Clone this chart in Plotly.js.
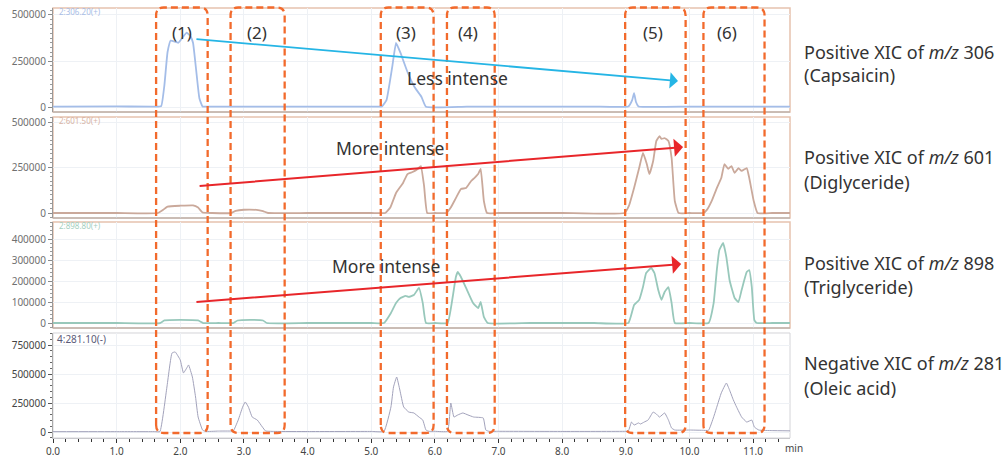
<!DOCTYPE html>
<html>
<head>
<meta charset="utf-8">
<script src="https://cdn.plot.ly/plotly-3.0.1.min.js"></script>
<style>html,body{margin:0;padding:0;background:#fff;}#chart{width:1006px;height:457px;}</style>
</head>
<body>
<div id="chart"></div>
<script>
// ---------- DATA ----------
// Positive XIC m/z 306 (Capsaicin)
const t306 = [0, 1.0, 1.60, 1.70, 1.75, 1.80, 1.85, 1.97, 2.05, 2.10, 2.16, 2.20, 2.25, 2.30, 2.35, 2.5, 3.0, 4.0, 5.10, 5.17, 5.24, 5.33, 5.39, 5.46, 5.57, 5.68, 5.79, 5.86, 6.5, 7.5, 8.5, 9.04, 9.10, 9.13, 9.16, 9.20, 10.0, 11.0, 11.58];
const i306 = [5000, 6000, 5000, 8000, 120000, 300000, 362000, 350000, 385000, 405000, 385000, 350000, 200000, 50000, 6000, 5000, 5000, 5000, 5000, 6000, 40000, 219000, 349000, 295000, 192000, 111000, 57000, 4000, 5000, 5000, 5000, 6000, 40000, 78000, 30000, 6000, 5000, 5000, 5000];

// Positive XIC m/z 601 (Diglyceride)
const t601 = [0, 1.0, 1.65, 1.72, 1.80, 2.00, 2.20, 2.28, 2.35, 2.50, 2.80, 2.87, 3.00, 3.20, 3.30, 3.38, 4.0, 5.0,
  5.22, 5.30, 5.39, 5.50, 5.57, 5.65, 5.73, 5.78, 5.83, 5.88, 6.0,
  6.18, 6.25, 6.33, 6.41, 6.49, 6.57, 6.62, 6.68, 6.72, 6.77, 6.82, 7.0, 8.0,
  8.98, 9.05, 9.13, 9.21, 9.27, 9.33, 9.37, 9.43, 9.48, 9.53, 9.56, 9.61, 9.67, 9.72, 9.77, 9.83, 10.0,
  10.22, 10.28, 10.35, 10.43, 10.50, 10.55, 10.61, 10.66, 10.71, 10.77, 10.82, 10.90, 10.94, 11.01, 11.07, 11.3, 11.58];
const i601 = [0, 0, 0, 15000, 35000, 40000, 42000, 30000, 3000, 0, 0, 12000, 18000, 17000, 10000, 0, 0, 0,
  0, 30000, 110000, 165000, 214000, 225000, 242000, 258000, 150000, 0, 0,
  0, 30000, 82000, 132000, 137000, 176000, 192000, 214000, 242000, 66000, 0, 0, 0,
  0, 40000, 137000, 247000, 330000, 269000, 214000, 286000, 396000, 423000, 407000, 412000, 396000, 302000, 66000, 0, 0,
  0, 20000, 66000, 137000, 192000, 269000, 242000, 258000, 220000, 247000, 231000, 247000, 192000, 66000, 0, 0, 0];

// Positive XIC m/z 898 (Triglyceride)
const t898 = [0, 1.0, 1.68, 1.75, 2.0, 2.28, 2.36, 2.6, 2.83, 2.90, 3.10, 3.30, 3.36, 4.0, 5.0,
  5.20, 5.31, 5.39, 5.46, 5.54, 5.59, 5.67, 5.75, 5.81, 5.86, 6.0,
  6.20, 6.28, 6.33, 6.36, 6.41, 6.49, 6.60, 6.68, 6.72, 6.77, 6.83, 7.5, 8.5,
  9.04, 9.13, 9.21, 9.27, 9.32, 9.40, 9.45, 9.51, 9.56, 9.61, 9.67, 9.72, 9.77, 10.0,
  10.30, 10.38, 10.43, 10.47, 10.53, 10.58, 10.63, 10.71, 10.77, 10.82, 10.90, 10.94, 10.98, 11.02, 11.06, 11.3, 11.58];
const i898 = [0, 0, 0, 12000, 15000, 12000, 0, 0, 0, 12000, 15000, 12000, 0, 0, 0,
  0, 48000, 95000, 119000, 129000, 124000, 133000, 167000, 95000, 0, 0,
  0, 124000, 219000, 243000, 219000, 167000, 95000, 71000, 100000, 29000, 0, 0, 0,
  0, 86000, 110000, 171000, 238000, 262000, 238000, 157000, 110000, 148000, 171000, 95000, 0, 0,
  0, 95000, 252000, 348000, 381000, 314000, 205000, 119000, 100000, 157000, 243000, 252000, 171000, 14000, 0, 0, 0];

// Negative XIC m/z 281 (Oleic acid)
const t281 = [0, 1.0, 1.60, 1.68, 1.79, 1.87, 1.92, 2.00, 2.05, 2.11, 2.13, 2.19, 2.24, 2.28, 2.35, 2.39, 2.6, 2.80,
  2.83, 2.91, 2.98, 3.02, 3.07, 3.13, 3.21, 3.29, 3.34, 3.5, 4.0, 5.0,
  5.20, 5.31, 5.35, 5.40, 5.45, 5.51, 5.59, 5.67, 5.75, 5.81, 5.86, 5.91, 6.0,
  6.20, 6.25, 6.30, 6.36, 6.44, 6.52, 6.61, 6.76, 6.80, 6.85, 7.0, 8.0, 9.0,
  9.04, 9.09, 9.13, 9.20, 9.23, 9.29, 9.35, 9.43, 9.48, 9.53, 9.61, 9.67, 9.72, 9.77, 10.0, 10.2,
  10.30, 10.38, 10.43, 10.50, 10.58, 10.63, 10.69, 10.74, 10.82, 10.90, 10.98, 11.02, 11.09, 11.3, 11.58];
const i281 = [3000, 3000, 3000, 3000, 388000, 681000, 690000, 620000, 509000, 560000, 578000, 474000, 302000, 129000, 17000, 5000, 8000, 8000,
  5000, 103000, 216000, 259000, 216000, 129000, 103000, 43000, 9000, 5000, 4000, 5000,
  5000, 216000, 388000, 474000, 362000, 216000, 172000, 164000, 129000, 103000, 17000, 6000, 6000,
  6000, 250000, 129000, 147000, 164000, 147000, 129000, 121000, 17000, 6000, 6000, 5000, 6000,
  8000, 86000, 60000, 78000, 69000, 86000, 103000, 172000, 155000, 129000, 164000, 103000, 34000, 17000, 17000, 15000,
  15000, 129000, 216000, 336000, 422000, 362000, 276000, 216000, 129000, 86000, 103000, 43000, 17000, 12000, 10000];

// Tick values
const xTicks = [0,1,2,3,4,5,6,7,8,9,10,11];
const yTicks1 = [0, 250000, 500000];
const yTicks2 = [0, 250000, 500000];
const yTicks3 = [0, 100000, 200000, 300000, 400000];
const yTicks4 = [0, 250000, 500000, 750000];

// Labels
const panelTags = ['2:306.20(+)', '2:601.50(+)', '2:898.80(+)', '4:281.10(-)'];
const regionLabels = ['(1)', '(2)', '(3)', '(4)', '(5)', '(6)'];
const sideLine1 = ['Positive XIC of <i>m/z</i> 306', 'Positive XIC of <i>m/z</i> 601', 'Positive XIC of <i>m/z</i> 898', 'Negative XIC of <i>m/z</i> 281'];
const sideLine2 = ['(Capsaicin)', '(Diglyceride)', '(Triglyceride)', '(Oleic acid)'];

// ---------- LAYOUT GEOMETRY (positions/styles) ----------
const FONT = 'Noto Sans, Open Sans, sans-serif';
const doms = [[0.7581, 1], [0.5116, 0.7465], [0.2558, 0.5023], [0, 0.2442]];
const ranges = [[-24300, 537800], [-27500, 527500], [-23800, 481000], [-51700, 853500]];
const boxX = [[1.62,2.43],[2.79,3.64],[5.15,5.98],[6.19,6.94],[8.99,9.94],[10.22,11.18]];
const labelX = [2.03, 3.21, 5.55, 6.52, 9.43, 10.59];
const sideY1 = [52, 157, 263, 363];
const sideY2 = [75, 182, 287, 388];
const tagY = [11, 120, 225, 339];
const tagColors = ['#a9bde6', '#d8b4a4', '#a4cfc0', '#5a5a78'];
const lineColors = ['#a4bde8', '#caa99b', '#98c8bb', '#a2a2bb'];
const pyOf = y => (438 - y) / 430;

const traces = [
  {x: t306, y: i306, xaxis:'x', yaxis:'y'},
  {x: t601, y: i601, xaxis:'x', yaxis:'y2'},
  {x: t898, y: i898, xaxis:'x', yaxis:'y3'},
  {x: t281, y: i281, xaxis:'x', yaxis:'y4'}
].map((tr, k) => Object.assign(tr, {
  type:'scatter', mode:'lines', hoverinfo:'skip',
  line:{color: lineColors[k], width: k === 3 ? 1 : 1.8, shape:'spline', smoothing:0.35}
}));

function yax(k, ticks, minorDt, top) {
  return {
    domain: doms[k], range: ranges[k], anchor:'x',
    tickvals: ticks, tickformat:'d',
    ticks:'outside', ticklen:4, tickcolor: top ? '#8a8a8a' : '#555',
    tickfont:{family:FONT, size:10, color: top ? '#707070' : '#444'},
    showline:true, linecolor: top ? '#9a9a9a' : '#aaa', linewidth:1,
    showgrid:true, gridcolor:'#eef1f5', zeroline:false,
    minor:{dtick:minorDt, ticks:'outside', ticklen:2, tickcolor: top ? '#9a9a9a' : '#666', showgrid:false},
    fixedrange:true
  };
}

const shapes = [];
// panel frames
for (let k = 0; k < 3; k++) {
  shapes.push({type:'rect', xref:'paper', yref:'paper', x0:0, x1:1, y0:doms[k][0], y1:doms[k][1],
    line:{color:'#e6c2ae', width:1.5}, layer:'below'});
  shapes.push({type:'line', xref:'paper', yref:'paper', x0:0, x1:1, y0:doms[k][0], y1:doms[k][0],
    line:{color:'#a8a8a8', width:1}});
}
shapes.push({type:'rect', xref:'paper', yref:'paper', x0:0, x1:1, y0:doms[3][0], y1:doms[3][1],
  line:{color:'#d4d4d8', width:1}, layer:'below'});
// dashed rounded boxes
const yt = pyOf(7.5), yb = pyOf(433), rx = 0.12, ry = 8/430;
boxX.forEach(([x0, x1]) => {
  const p = `M ${x0},${yb+ry} L ${x0},${yt-ry} Q ${x0},${yt} ${x0+rx},${yt} L ${x1-rx},${yt} Q ${x1},${yt} ${x1},${yt-ry} ` +
            `L ${x1},${yb+ry} Q ${x1},${yb} ${x1-rx},${yb} L ${x0+rx},${yb} Q ${x0},${yb} ${x0},${yb+ry} Z`;
  shapes.push({type:'path', xref:'x', yref:'paper', path:p, line:{color:'#f26a2c', width:2.3, dash:'7px,4px'}, layer:'above'});
});

const ann = [];
regionLabels.forEach((t, k) => ann.push({xref:'x', yref:'paper', x:labelX[k], y:pyOf(32), text:t, showarrow:false,
  xanchor:'center', yanchor:'middle', font:{family:FONT, size:17, color:'#333'}}));
for (let k = 0; k < 4; k++) {
  ann.push({xref:'paper', yref:'paper', x:1.0163, y:pyOf(sideY1[k]), text:sideLine1[k], showarrow:false,
    xanchor:'left', yanchor:'middle', font:{family:FONT, size:18, color:'#333'}});
  ann.push({xref:'paper', yref:'paper', x:1.0163, y:pyOf(sideY2[k]), text:sideLine2[k], showarrow:false,
    xanchor:'left', yanchor:'middle', font:{family:FONT, size:18, color:'#333'}});
  ann.push({xref:'paper', yref:'paper', x:(k===3?0.003:0.006), y:pyOf(tagY[k]), text:panelTags[k], showarrow:false,
    xanchor:'left', yanchor:'middle', font:{family:FONT, size:(k===3?10:8), color:tagColors[k]}});
}
// arrows
ann.push({xref:'x', yref:'y', axref:'x', ayref:'y', x:9.82, y:143000, ax:2.23, ay:370000, text:'', showarrow:true,
  arrowhead:1, arrowsize:1.5, arrowwidth:1.8, arrowcolor:'#25b5e5', standoff:0, startstandoff:0});
ann.push({xref:'x', yref:'y2', axref:'x', ayref:'y2', x:9.90, y:362700, ax:2.28, ay:148000, text:'', showarrow:true,
  arrowhead:1, arrowsize:1.5, arrowwidth:2, arrowcolor:'#e8262a', standoff:0, startstandoff:0});
ann.push({xref:'x', yref:'y3', axref:'x', ayref:'y3', x:9.87, y:281000, ax:2.23, ay:100000, text:'', showarrow:true,
  arrowhead:1, arrowsize:1.5, arrowwidth:2, arrowcolor:'#e8262a', standoff:0, startstandoff:0});
ann.push({xref:'x', yref:'paper', x:6.35, y:pyOf(78), text:'Less intense', showarrow:false, xanchor:'center', yanchor:'middle',
  font:{family:FONT, size:17.5, color:'#333'}});
ann.push({xref:'x', yref:'paper', x:5.30, y:pyOf(148), text:'More intense', showarrow:false, xanchor:'center', yanchor:'middle',
  font:{family:FONT, size:17.5, color:'#333'}});
ann.push({xref:'x', yref:'paper', x:5.23, y:pyOf(266), text:'More intense', showarrow:false, xanchor:'center', yanchor:'middle',
  font:{family:FONT, size:17.5, color:'#333'}});
ann.push({xref:'paper', yref:'paper', x:0.990, y:pyOf(448), text:'min', showarrow:false, xanchor:'left', yanchor:'middle',
  font:{family:FONT, size:10, color:'#444'}});

const layout = {
  width:1006, height:457,
  margin:{l:53, r:216, t:8, b:19, pad:0},
  paper_bgcolor:'#ffffff', plot_bgcolor:'#ffffff',
  showlegend:false,
  font:{family:FONT, color:'#444'},
  xaxis:{
    domain:[0,1], range:[0, 11.58], anchor:'y4',
    tickvals: xTicks, tickformat:'.1f',
    ticks:'outside', ticklen:4, tickcolor:'#333',
    tickfont:{family:FONT, size:10, color:'#444'},
    showline:true, linecolor:'#c8c8cc', linewidth:1,
    showgrid:true, gridcolor:'#eef1f5', zeroline:false,
    minor:{dtick:0.2, ticks:'outside', ticklen:3, tickcolor:'#333', showgrid:false},
    fixedrange:true
  },
  yaxis: yax(0, yTicks1, 25000, true),
  yaxis2: yax(1, yTicks2, 25000, true),
  yaxis3: yax(2, yTicks3, 20000, true),
  yaxis4: yax(3, yTicks4, 50000, false),
  shapes: shapes,
  annotations: ann
};

Plotly.newPlot('chart', traces, layout, {displayModeBar:false, staticPlot:true});
</script>
</body>
</html>
